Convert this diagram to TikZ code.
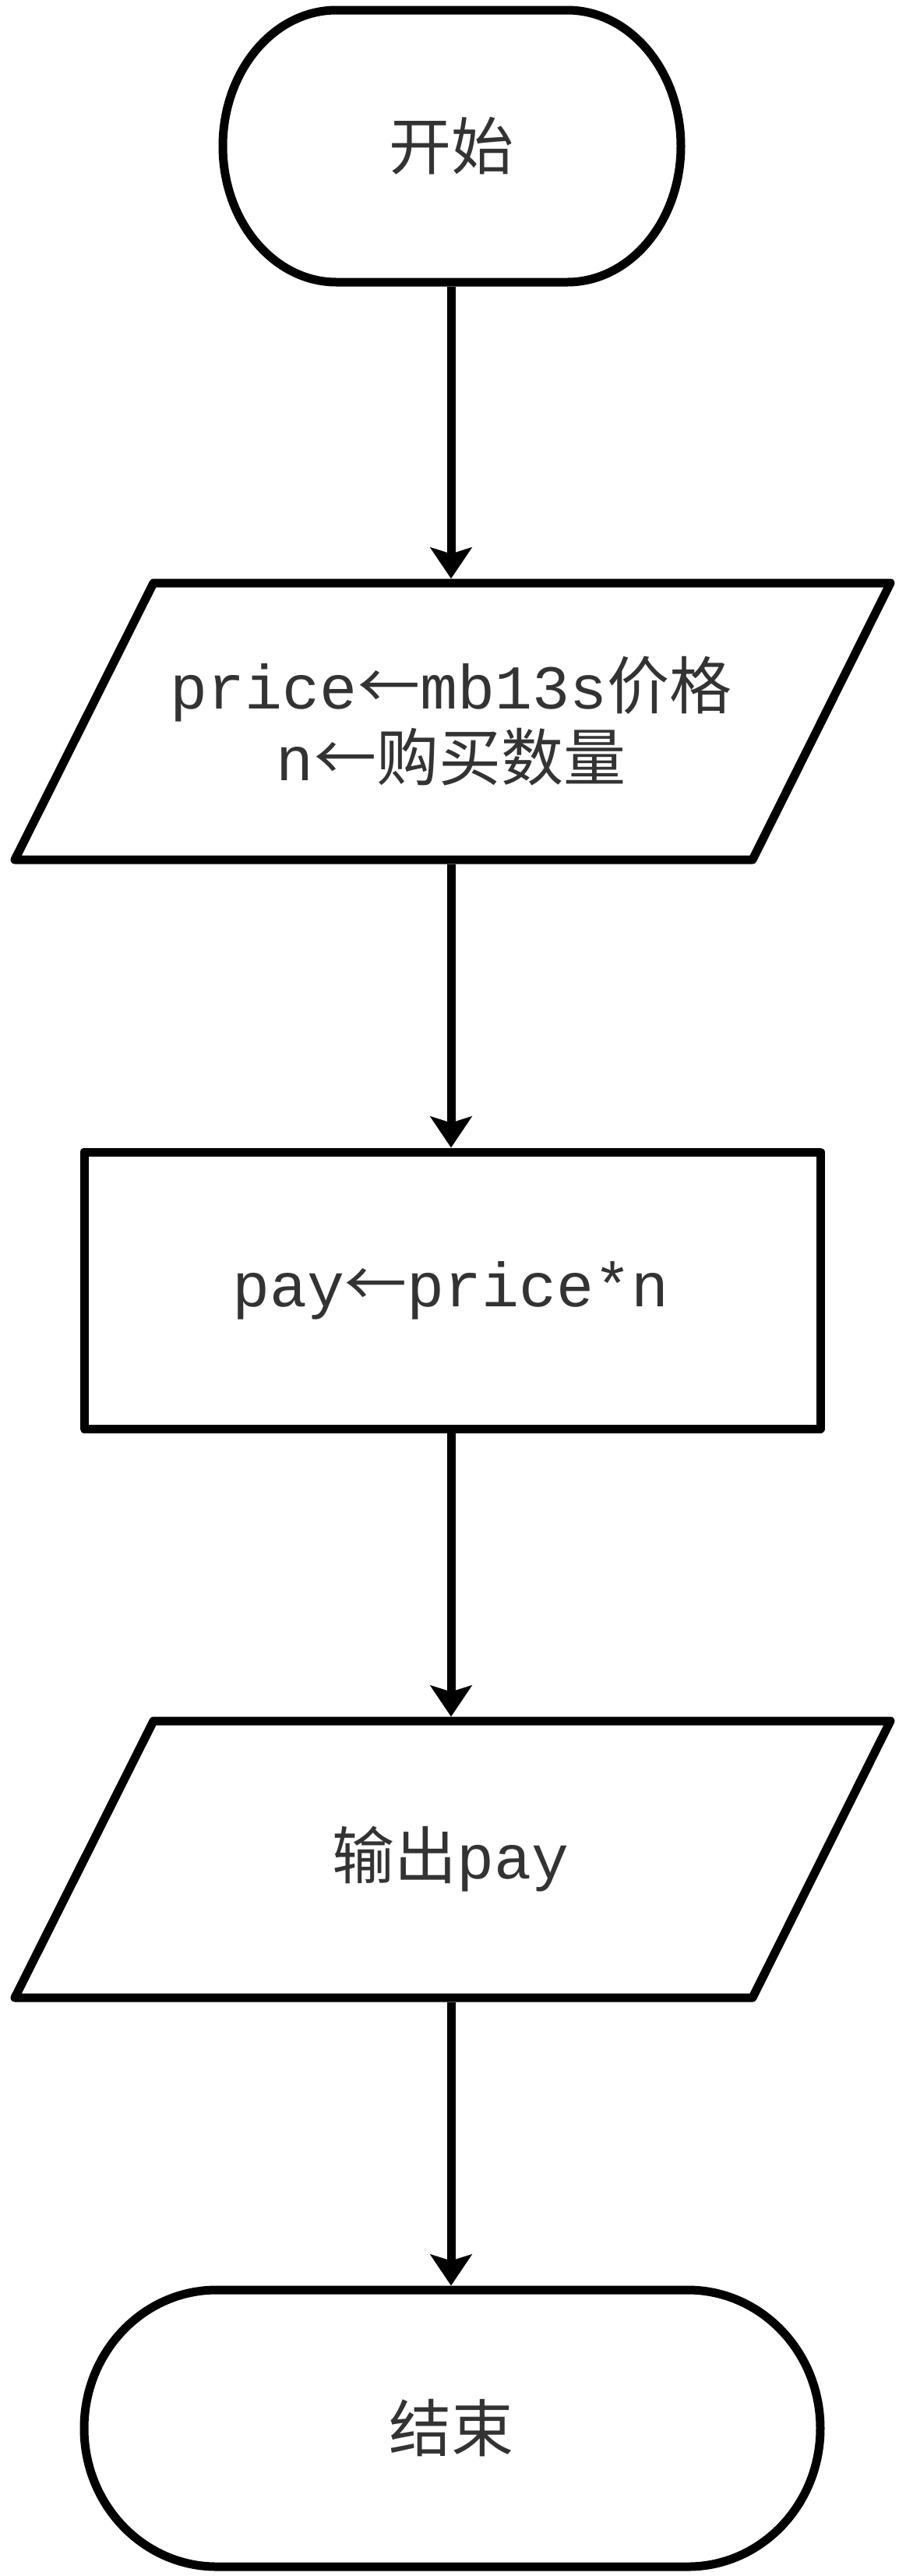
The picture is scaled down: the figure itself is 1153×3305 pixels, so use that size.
\documentclass[tikz,border=0pt]{standalone}
\usepackage{fontspec}
\setmainfont{Liberation Mono}
\newfontfamily\cjk{Noto Sans CJK SC}
\usetikzlibrary{arrows.meta}
\definecolor{txtgray}{HTML}{333333}
\begin{document}
\begin{tikzpicture}[x=0.5pt,y=0.5pt,
  shp/.style={draw=black, line width=5.5pt, line join=round},
  holder/.style={inner sep=0pt, outer sep=0pt, text=txtgray, align=center,
    font=\fontsize{40pt}{46pt}\selectfont},
  conn/.style={draw=black, line width=5.5pt,
    -{Stealth[length=20pt,width=26.5pt,inset=4pt]}}]
\useasboundingbox[fill=white] (0,0) rectangle (1153,-3305);
% outlines
\draw[shp] (432,-13) -- (728,-13) arc[start angle=90,end angle=-90,x radius=146,y radius=174.5]
  -- (432,-362) arc[start angle=270,end angle=90,x radius=146,y radius=174.5] -- cycle;
\draw[shp] (197,-748) -- (1143,-748) -- (966,-1103) -- (19,-1103) -- cycle;
\draw[shp] (108,-1478) rectangle (1053,-1833);
\draw[shp] (197,-2208) -- (1143,-2208) -- (966,-2563) -- (19,-2563) -- cycle;
\draw[shp] (278,-2938) -- (883,-2938) arc[start angle=90,end angle=-90,x radius=170,y radius=177.5]
  -- (278,-3293) arc[start angle=270,end angle=90,x radius=170,y radius=177.5] -- cycle;
% nodes
\node[holder, minimum width=300pt, minimum height=180pt] (start) at (579,-187.5) {{\cjk 开始}};
\node[holder, minimum width=480pt, minimum height=183pt] (input) at (579,-925.5)
  {price{\cjk ←}mb13s{\cjk 价格}\\n{\cjk ←购买数量}};
\node[holder, minimum width=480pt, minimum height=183pt] (proc) at (579,-1655.5)
  {pay{\cjk ←}price*n};
\node[holder, minimum width=480pt, minimum height=183pt] (output) at (579,-2385.5)
  {{\cjk 输出}pay};
\node[holder, minimum width=480pt, minimum height=183pt] (stop) at (579,-3115.5)
  {{\cjk 结束}};
% connectors
\draw[conn] (start.south) -- (input.north);
\draw[conn] (input.south) -- (proc.north);
\draw[conn] (proc.south) -- (output.north);
\draw[conn] (output.south) -- (stop.north);
\end{tikzpicture}
\end{document}
